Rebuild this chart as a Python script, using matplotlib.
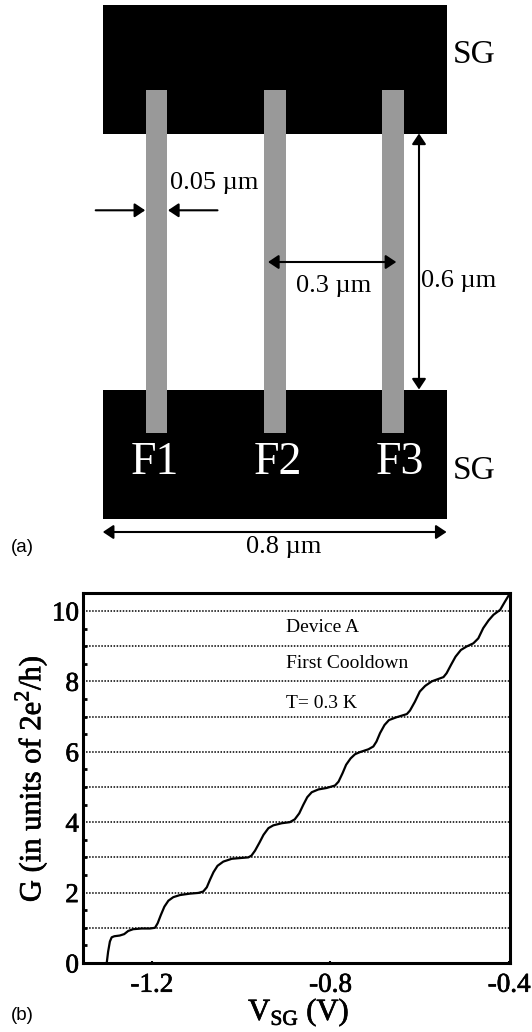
import matplotlib
matplotlib.use('Agg')
import matplotlib.pyplot as plt
import matplotlib.patheffects as pe
from matplotlib.patches import Rectangle

plt.rcParams['font.family'] = ['Liberation Serif', 'DejaVu Serif']
plt.rcParams['mathtext.fontset'] = 'custom'
plt.rcParams['mathtext.rm'] = 'Liberation Serif'

# trace
vsg = [-1.301, -1.298, -1.294, -1.290, -1.284, -1.272, -1.262, -1.253, -1.242, -1.223,
       -1.204, -1.193, -1.187, -1.180, -1.172, -1.163, -1.152, -1.137, -1.115, -1.096,
       -1.085, -1.077, -1.070, -1.062, -1.053, -1.040, -1.021, -1.003, -0.984, -0.977,
       -0.969, -0.959, -0.950, -0.939, -0.928, -0.909, -0.891, -0.880, -0.870, -0.861,
       -0.852, -0.842, -0.827, -0.809, -0.790, -0.782, -0.773, -0.765, -0.755, -0.745,
       -0.734, -0.715, -0.704, -0.697, -0.689, -0.679, -0.669, -0.652, -0.629, -0.622,
       -0.611, -0.600, -0.588, -0.573, -0.547, -0.540, -0.530, -0.520, -0.508, -0.495,
       -0.480, -0.469, -0.458, -0.446, -0.435, -0.420, -0.415, -0.409, -0.400]
cond = [0.01, 0.32, 0.61, 0.73, 0.76, 0.78, 0.82, 0.91, 0.96, 0.98,
        0.98, 1.00, 1.13, 1.36, 1.60, 1.77, 1.87, 1.93, 1.97, 1.99,
        2.03, 2.15, 2.36, 2.58, 2.76, 2.88, 2.96, 2.98, 3.00, 3.05,
        3.19, 3.42, 3.64, 3.83, 3.91, 3.97, 4.00, 4.08, 4.25, 4.49,
        4.71, 4.85, 4.93, 4.97, 5.04, 5.15, 5.39, 5.63, 5.81, 5.93,
        5.99, 6.07, 6.15, 6.29, 6.53, 6.76, 6.90, 6.98, 7.07, 7.17,
        7.42, 7.71, 7.87, 8.00, 8.12, 8.23, 8.47, 8.70, 8.89, 8.99,
        9.08, 9.22, 9.51, 9.73, 9.89, 10.03, 10.14, 10.27, 10.46]
plateaus = [1, 2, 3, 4, 5, 6, 7, 8, 9, 10]
x_ticks = [-1.2, -0.8, -0.4]
x_tick_labels = ['-1.2', '-0.8', '-0.4']
y_ticks = [0, 2, 4, 6, 8, 10]
y_minor = [0.5, 1, 1.5, 2.5, 3, 3.5, 4.5, 5, 5.5, 6.5, 7, 7.5, 8.5, 9, 9.5]
notes = ['Device A', 'First Cooldown', 'T= 0.3 K']
finger_names = ['F1', 'F2', 'F3']

W, H = 532, 1032
fig = plt.figure(figsize=(W / 100, H / 100), dpi=100)

# panel (a) is a sketch, drawn on a pixel-sized axes covering the whole figure
bg = fig.add_axes([0, 0, 1, 1])
bg.set_xlim(0, W)
bg.set_ylim(H, 0)
bg.axis('off')

for top, bottom in [(4.5, 133.5), (390.3, 519.3)]:
    bg.add_patch(Rectangle((102.8, top), 343.8, bottom - top, color='black', lw=0))
for left in [145.9, 264.3, 382.1]:
    bg.add_patch(Rectangle((left, 90.3), 21.5, 343, color='#999999', lw=0))


def arrow(x0, y0, x1, y1, style='-|>'):
    bg.annotate('', xy=(x1, y1), xytext=(x0, y0),
                arrowprops=dict(arrowstyle=style + ',head_length=0.45,head_width=0.3',
                                color='black', lw=1.5, shrinkA=0, shrinkB=0,
                                mutation_scale=14))


arrow(95.7, 210.3, 145.2, 210.3)
arrow(217.5, 210.3, 168, 210.3)
arrow(268, 262, 396.3, 262, '<|-|>')
arrow(419, 133.5, 419, 389.5, '<|-|>')
arrow(102.8, 532, 446.6, 532, '<|-|>')

for name, xc in zip(finger_names, [154.4, 278, 399.4]):
    bg.text(xc, 463, name, color='white', fontsize=33, ha='center', va='center')
for yc in [55, 471]:
    bg.text(474, yc, 'SG', fontsize=24, ha='center', va='center')

bg.text(169.7, 183, '0.05 µm', fontsize=19, ha='left', va='center')
bg.text(334, 286, '0.3 µm', fontsize=19, ha='center', va='center')
bg.text(459, 281, '0.6 µm', fontsize=19, ha='center', va='center')
bg.text(283.3, 547, '0.8 µm', fontsize=19, ha='center', va='center')
bg.text(22.7, 548, '(a)', family='Liberation Sans', fontsize=13.5, ha='center', va='center')
bg.text(22.7, 1016, '(b)', family='Liberation Sans', fontsize=13.5, ha='center', va='center')

# panel (b)
ax = fig.add_axes([83.1 / W, 1 - 963 / H, (510 - 83.1) / W, (963 - 593.3) / H])
ax.patch.set_alpha(0)
ax.set_xlim(-1.354, -0.398)
ax.set_ylim(0, 10.5)

for level in plateaus:
    ax.axhline(level, color='black', lw=1.1, ls=(0, (1, 1)), zorder=1)
ax.plot(vsg, cond, color='black', lw=1.6, zorder=2, solid_joinstyle='round')

for spine in ax.spines.values():
    spine.set_linewidth(2.2)

ax.set_xticks(x_ticks)
ax.set_xticklabels(x_tick_labels)
ax.set_yticks(y_ticks)
ax.set_yticks(y_minor, minor=True)
ax.tick_params(axis='x', direction='in', length=1.5, width=1.5, labelsize=19.5, pad=7)
ax.tick_params(axis='y', which='major', direction='in', length=0, labelsize=19.5, pad=3)
ax.tick_params(axis='y', which='minor', direction='in', length=3, width=2)

heavy = [pe.withStroke(linewidth=0.5, foreground='black')]
for lab in ax.get_xticklabels() + ax.get_yticklabels():
    lab.set_path_effects(heavy)

for note, yp in zip(notes, [627, 664, 703]):
    bg.text(286, yp, note, fontsize=14, ha='left', va='center', zorder=5)

bg.text(30.5, 779, 'G (in units of 2e$^{2}$/h)', fontsize=22, rotation=90,
        ha='center', va='center', path_effects=heavy)
bg.text(298.6, 1012, 'V$_{\\mathrm{SG}}$ (V)', fontsize=22, ha='center', va='center',
        path_effects=heavy)

fig.savefig('out.png', dpi=100)
